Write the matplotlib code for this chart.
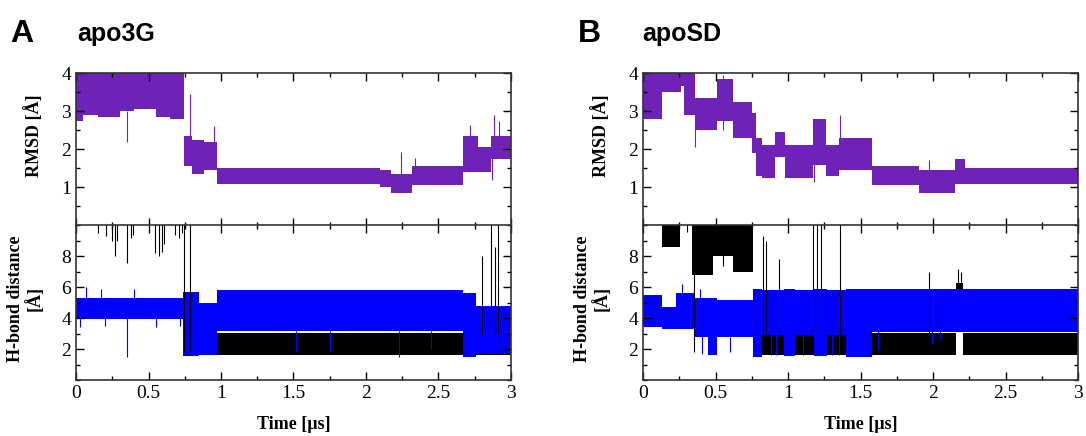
import matplotlib
matplotlib.use("Agg")
import matplotlib.pyplot as plt
from matplotlib.ticker import MultipleLocator, FuncFormatter

# --- data: noisy bands as (edges, low, high) plus single spikes ---
PURPLE = "#6e22b8"

# panel A (apo3G) RMSD band
rmsd_a_t = [0, 0.05, 0.15, 0.3, 0.4, 0.55, 0.65, 0.745, 0.8, 0.88, 0.97, 1.3, 1.7,
            2.1, 2.17, 2.32, 2.67, 2.77, 2.86, 3.0]
rmsd_a_lo = [2.75, 2.9, 2.85, 3.0, 3.05, 2.85, 2.8, 1.55, 1.35, 1.45, 1.1, 1.1, 1.1,
             1.0, 0.85, 1.05, 1.4, 1.4, 1.75]
rmsd_a_hi = [4.3, 4.3, 4.3, 4.3, 4.3, 4.3, 4.3, 2.35, 2.25, 2.2, 1.5, 1.5, 1.5,
             1.45, 1.35, 1.55, 2.35, 2.05, 2.35]
rmsd_a_spk_t = [0.35, 0.786, 0.95, 2.24, 2.34, 2.72, 2.88, 2.92, 2.87]
rmsd_a_spk_lo = [2.2, 2.0, 2.0, 1.3, 1.3, 2.2, 2.2, 2.2, 1.2]
rmsd_a_spk_hi = [3.0, 3.45, 2.6, 1.94, 1.76, 2.64, 2.9, 2.75, 1.8]

# panel B (apoSD) RMSD band
rmsd_b_t = [0, 0.13, 0.26, 0.28, 0.36, 0.51, 0.62, 0.75, 0.78, 0.82, 0.91, 0.98,
            1.17, 1.26, 1.35, 1.58, 1.9, 2.15, 2.22, 3.0]
rmsd_b_lo = [2.8, 3.5, 3.65, 2.9, 2.5, 2.75, 2.3, 1.9, 1.3, 1.25, 1.8, 1.25,
             1.6, 1.3, 1.45, 1.05, 0.85, 1.1, 1.1]
rmsd_b_hi = [4.3, 4.3, 4.3, 4.3, 3.35, 3.85, 3.25, 2.95, 2.3, 2.1, 2.45, 2.1,
             2.8, 2.1, 2.3, 1.55, 1.45, 1.75, 1.52]
rmsd_b_spk_t = [0.36, 1.18, 1.36, 1.97, 0.55]
rmsd_b_spk_lo = [2.05, 1.15, 2.0, 1.3, 2.5]
rmsd_b_spk_hi = [2.6, 1.7, 2.9, 1.72, 3.95]

# panel A H-bond: black (first contact) and blue (second contact)
blk_a_t = [0.74, 3.0]
blk_a_lo = [1.6]
blk_a_hi = [3.05]
blk_a_spk_t = [0.154, 0.21, 0.25, 0.27, 0.28, 0.355, 0.38, 0.395, 0.545, 0.57,
               0.59, 0.605, 0.68, 0.71, 0.73, 0.745, 0.786, 2.8, 2.86, 2.89, 2.91]
blk_a_spk_lo = [9.5, 9.3, 9.0, 8.0, 9.0, 7.6, 9.2, 9.4, 8.2, 8.0,
                8.3, 8.8, 9.4, 9.2, 9.5, 1.8, 1.8, 3.0, 3.0, 3.0, 3.0]
blk_a_spk_hi = [10.5, 10.5, 10.5, 10.5, 10.5, 10.5, 10.5, 10.5, 10.5, 10.5,
                10.5, 10.5, 10.5, 10.5, 10.5, 10.5, 10.5, 8.0, 10.5, 8.6, 10.5]

blu_a_t = [0, 0.74, 0.85, 0.97, 2.67, 2.76, 3.0]
blu_a_lo = [3.95, 1.55, 1.6, 3.15, 1.5, 1.7]
blu_a_hi = [5.3, 5.7, 5.0, 5.85, 5.6, 4.8]
blu_a_spk_t = [0.03, 0.07, 0.17, 0.2, 0.35, 0.4, 0.55, 0.72, 1.52, 1.75, 2.23, 2.45]
blu_a_spk_lo = [3.4, 5.0, 5.0, 3.5, 1.5, 5.0, 3.4, 3.5, 1.8, 1.9, 1.5, 2.0]
blu_a_spk_hi = [4.0, 6.0, 5.9, 4.0, 4.0, 5.9, 4.0, 4.0, 3.2, 3.2, 3.2, 3.2]

# panel B H-bond
blk_b_t = [0.13, 0.255, 0.34, 0.485, 0.62, 0.76, 2.16, 2.21, 3.0]
blk_b_lo = [8.6, 10.2, 6.8, 8.0, 7.0, 1.6, 5.7, 1.6]
blk_b_hi = [10.5, 10.5, 10.5, 10.5, 10.5, 3.05, 6.3, 3.05]
blk_b_spk_t = [0.35, 0.3, 0.55, 0.83, 0.85, 0.94, 1.17, 1.2, 1.23, 1.36, 1.97, 2.17, 2.19]
blk_b_spk_lo = [1.8, 9.6, 7.4, 3.0, 3.0, 3.0, 3.0, 3.0, 3.0, 3.0, 3.0, 6.0, 6.0]
blk_b_spk_hi = [10.5, 10.5, 10.5, 9.3, 9.0, 7.8, 10.5, 10.5, 10.5, 10.5, 7.0, 7.2, 7.0]

blu_b_t = [0, 0.13, 0.23, 0.36, 0.45, 0.51, 0.76, 0.82, 0.97, 1.05, 1.18, 1.27, 1.4, 1.58, 3.0]
blu_b_lo = [3.45, 3.3, 3.3, 2.8, 1.6, 2.8, 1.5, 2.9, 1.55, 2.9, 1.55, 2.9, 1.5, 3.1]
blu_b_hi = [5.5, 4.7, 5.6, 5.3, 5.3, 5.2, 5.9, 5.8, 5.9, 5.8, 5.9, 5.8, 5.9, 5.9]
blu_b_spk_t = [0.27, 0.39, 0.41, 0.6, 0.88, 0.92, 1.1, 1.3, 1.35, 1.62, 1.99, 2.05]
blu_b_spk_lo = [5.0, 5.0, 1.7, 1.8, 1.6, 1.6, 1.6, 1.6, 1.6, 2.0, 2.4, 2.6]
blu_b_spk_hi = [6.2, 5.9, 3.0, 2.8, 3.0, 3.0, 3.0, 3.0, 3.0, 3.2, 3.2, 3.2]

x_ticks = [0, 0.5, 1, 1.5, 2, 2.5, 3]

plt.rcParams["font.family"] = ["Liberation Serif", "DejaVu Serif"]

fig = plt.figure(figsize=(10.86, 4.36), dpi=100)
W, H = 1086, 436


def band(ax, t, lo, hi, color):
    ax.stairs(hi, t, baseline=lo, fill=True, color=color, lw=0.4)


def spikes(ax, t, lo, hi, color):
    ax.vlines(t, lo, hi, color=color, lw=0.8)


def style(ax, ymax, ymaj, ymin, labels):
    ax.set_xlim(0, 3)
    ax.set_ylim(0, ymax)
    ax.xaxis.set_major_locator(MultipleLocator(0.5))
    ax.xaxis.set_minor_locator(MultipleLocator(0.25))
    ax.yaxis.set_major_locator(MultipleLocator(ymaj))
    ax.yaxis.set_minor_locator(MultipleLocator(ymin))
    ax.set_yticks(labels)
    ax.tick_params(which="both", direction="in", top=True, right=True, width=1, labelsize=14)
    ax.tick_params(which="major", length=6)
    ax.tick_params(which="minor", length=3)
    for s in ax.spines.values():
        s.set_color("#333333")
        s.set_linewidth(1.2)


for col, (left_px, letter, name) in enumerate([(76, "A", "apo3G"), (643, "B", "apoSD")]):
    left = left_px / W
    width = 435 / W
    ax1 = fig.add_axes([left, 1 - 225.5 / H, width, 152.5 / H])
    ax2 = fig.add_axes([left, 1 - 380 / H, width, 154.5 / H])

    if col == 0:
        band(ax1, rmsd_a_t, rmsd_a_lo, rmsd_a_hi, PURPLE)
        spikes(ax1, rmsd_a_spk_t, rmsd_a_spk_lo, rmsd_a_spk_hi, PURPLE)
        band(ax2, blk_a_t, blk_a_lo, blk_a_hi, "black")
        spikes(ax2, blk_a_spk_t, blk_a_spk_lo, blk_a_spk_hi, "black")
        band(ax2, blu_a_t, blu_a_lo, blu_a_hi, "#0000ff")
        spikes(ax2, blu_a_spk_t, blu_a_spk_lo, blu_a_spk_hi, "#0000ff")
    else:
        band(ax1, rmsd_b_t, rmsd_b_lo, rmsd_b_hi, PURPLE)
        spikes(ax1, rmsd_b_spk_t, rmsd_b_spk_lo, rmsd_b_spk_hi, PURPLE)
        band(ax2, blk_b_t, blk_b_lo, blk_b_hi, "black")
        spikes(ax2, blk_b_spk_t, blk_b_spk_lo, blk_b_spk_hi, "black")
        band(ax2, blu_b_t, blu_b_lo, blu_b_hi, "#0000ff")
        spikes(ax2, blu_b_spk_t, blu_b_spk_lo, blu_b_spk_hi, "#0000ff")

    style(ax1, 4, 1, 0.5, [1, 2, 3, 4])
    style(ax2, 10, 2, 1, [2, 4, 6, 8])
    ax1.tick_params(labelbottom=False)
    ax2.set_xticks(x_ticks)
    ax2.xaxis.set_major_formatter(FuncFormatter(lambda v, p: "%g" % v))

    ax1.set_ylabel("RMSD [Å]", fontsize=13, fontweight="bold")
    ax1.yaxis.set_label_coords(-0.075, 0.59)
    ax2.set_ylabel("H-bond distance\n[Å]", fontsize=13, fontweight="bold", linespacing=1.0)
    ax2.yaxis.set_label_coords(-0.075, 0.525)
    ax2.set_xlabel("Time [µs]", fontsize=13, fontweight="bold", labelpad=10)

    fig.text((10 if col == 0 else 578) / W, 1 - 42 / H, letter, fontsize=23,
             fontweight="bold", family="Liberation Sans", va="baseline")
    fig.text((77 if col == 0 else 642) / W, 1 - 41 / H, name, fontsize=18,
             fontweight="bold", family="Liberation Sans", va="baseline")

fig.savefig("out.png", dpi=100)
